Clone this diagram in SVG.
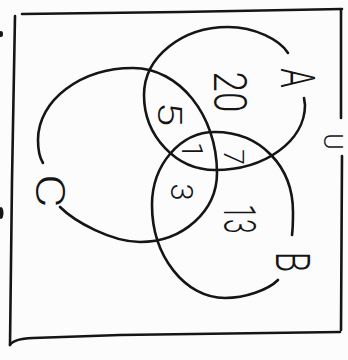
<svg xmlns="http://www.w3.org/2000/svg" width="348" height="360" viewBox="0 0 348 360">
<style>
.ln{fill:none;stroke:#151515;stroke-width:2.6;stroke-linecap:round;stroke-linejoin:round}
.lbl{font-family:Roboto,"Liberation Sans",sans-serif;font-weight:300;fill:#151515;text-anchor:middle;dominant-baseline:central}
</style>
<rect x="0" y="0" width="348" height="360" fill="#fcfcfc"/>
<g id="universe">
<path class="ln" d="M22,14 L180,12 L342,9"/>
<path class="ln" d="M15,16 L12,180 L10,345"/>
<path class="ln" d="M10,345 Q13,339 33,338 L120,335 L340,332"/>
<path class="ln" d="M341,10 L341,118"/>
<path class="ln" d="M342,156 L341,330"/>
<text class="lbl" transform="translate(324,141.5) rotate(90)" style="dominant-baseline:alphabetic" font-size="25">U</text>
<ellipse cx="1" cy="34" rx="2" ry="3" fill="#151515"/>
<ellipse cx="1" cy="213" rx="2.5" ry="6" fill="#151515"/>
</g>
<g id="set-A">
<path class="ln" d="M288,53 C280,40 255,27 228,27 C182,27 144,57 144,95 C144,136 176,170 215,170 C265,170 305,141 305,105 L304,98"/>
<text class="lbl" transform="translate(298,78) rotate(90) scale(0.65,1)" font-size="48">A</text>
</g>
<g id="set-B">
<path class="ln" d="M278,280 C268,290 245,298 225,298 C185,298 152,256 152,205 C152,165 180,132 215,132 C260,132 293,166 293,212 Q293,228 292,235"/>
<text class="lbl" transform="translate(292,262) rotate(90) scale(0.7,1)" font-size="48">B</text>
</g>
<g id="set-C">
<path class="ln" d="M60,207 C75,222 112,242 140,242 C183,242 217,211 217,173 C217,115 179,68 133,68 C81,68 38,100 38,140 Q38,155 43,163"/>
<text class="lbl" transform="translate(50,191) rotate(90) scale(1.3,1)" font-size="40">C</text>
</g>
<g id="regions">
<text class="lbl" transform="translate(230,92) rotate(90) scale(0.8,1)" font-size="46">20</text>
<text class="lbl" transform="translate(170,114) rotate(90) scale(1.3,1)" font-size="34">5</text>
<text class="lbl" transform="translate(192,150) rotate(90)" font-size="30">1</text>
<text class="lbl" transform="translate(233,157) rotate(90)" font-size="28">7</text>
<text class="lbl" transform="translate(181,192) rotate(90)" font-size="31">3</text>
<text class="lbl" transform="translate(239,219) rotate(90) scale(0.6,1)" font-size="44">13</text>
</g>
<g id="connectors"/>
</svg>
